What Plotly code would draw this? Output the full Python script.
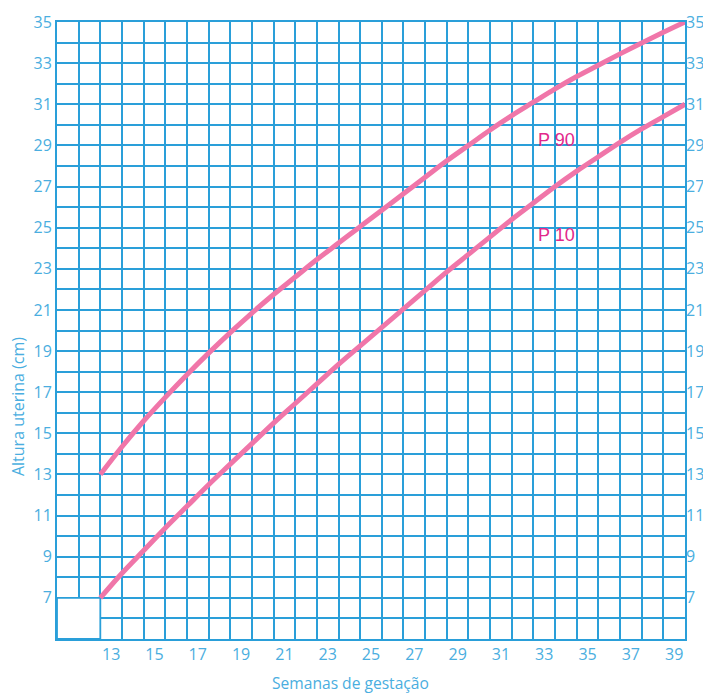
import plotly.graph_objects as go

# Data
weeks = list(range(13, 41))
p90 = [13.0, 14.35, 15.6, 16.75, 17.85, 18.9, 19.9, 20.85, 21.75, 22.6, 23.45, 24.25, 25.05, 25.85,
       26.65, 27.45, 28.25, 29.0, 29.75, 30.45, 31.1, 31.75, 32.35, 32.9, 33.45, 33.98, 34.5, 35.0]
p10 = [7.0, 8.2, 9.3, 10.4, 11.45, 12.5, 13.5, 14.5, 15.5, 16.45, 17.4, 18.35, 19.25, 20.15,
       21.05, 21.95, 22.85, 23.7, 24.55, 25.4, 26.2, 27.0, 27.75, 28.45, 29.15, 29.8, 30.4, 31.0]
x_labels = [str(w) for w in range(13, 40, 2)]
y_labels = list(range(7, 36, 2))

grid_color = '#2a9fd9'
tick_color = '#4aaee0'
curve_color = '#f076a9'
label_color = '#e2288c'
font_family = 'Open Sans'

fig = go.Figure()

fig.add_trace(go.Scatter(x=weeks, y=p90, mode='lines', line=dict(color=curve_color, width=5, shape='spline'),
                         showlegend=False, hoverinfo='skip'))
fig.add_trace(go.Scatter(x=weeks, y=p10, mode='lines', line=dict(color=curve_color, width=5, shape='spline'),
                         showlegend=False, hoverinfo='skip'))
# invisible trace so the right axis is drawn
fig.add_trace(go.Scatter(x=[weeks[0]], y=[p10[0]], yaxis='y2', mode='markers', marker=dict(opacity=0),
                         showlegend=False, hoverinfo='skip'))

# white corner box with no grid
fig.add_shape(type='rect', x0=11, x1=13, y0=5, y1=7, xref='x', yref='y', layer='between',
              fillcolor='white', line=dict(color=grid_color, width=1.8))

fig.add_annotation(x=33.1, y=29.26, text='P 90', showarrow=False, xanchor='left',
                   font=dict(family='Liberation Sans', size=18, color=label_color))
fig.add_annotation(x=33.1, y=24.64, text='P 10', showarrow=False, xanchor='left',
                   font=dict(family='Liberation Sans', size=18, color=label_color))

fig.add_annotation(x=-0.062, y=0.376, xref='paper', yref='paper', text='Altura uterina (cm)', textangle=-90,
                   showarrow=False, xanchor='center', yanchor='middle',
                   font=dict(family=font_family, size=16, color=tick_color))
fig.add_annotation(x=0.4666, y=-0.0713, xref='paper', yref='paper', text='Semanas de gestação',
                   showarrow=False, xanchor='center', yanchor='middle',
                   font=dict(family=font_family, size=15.6, color=tick_color))

# the page body adds an 8px offset, so the figure is a bit smaller
fig.update_layout(
    width=703, height=685,
    margin=dict(l=49, r=26, t=14, b=54, autoexpand=False),
    plot_bgcolor='white', paper_bgcolor='white',
    font=dict(family=font_family, size=16, color=tick_color),
    xaxis=dict(range=[11, 40], tickvals=[int(t) + 0.5 for t in x_labels], ticktext=x_labels,
               showgrid=False, zeroline=False, ticks='', automargin=False,
               showline=True, linecolor=grid_color, linewidth=1.8, mirror=True,
               minor=dict(tick0=11, dtick=1, showgrid=True, gridcolor=grid_color, gridwidth=1.8, ticks='')),
    yaxis=dict(range=[5, 35], tickvals=y_labels, ticktext=[str(v) for v in y_labels],
               showgrid=False, zeroline=False, ticks='', automargin=False,
               showline=True, linecolor=grid_color, linewidth=1.8, mirror=True,
               minor=dict(tick0=5, dtick=1, showgrid=True, gridcolor=grid_color, gridwidth=1.8, ticks='')),
    yaxis2=dict(range=[5, 35], overlaying='y', side='right', tickvals=y_labels, automargin=False,
                ticktext=[str(v) for v in y_labels], showgrid=False, zeroline=False, ticks=''),
)

fig.write_html('out.html')
